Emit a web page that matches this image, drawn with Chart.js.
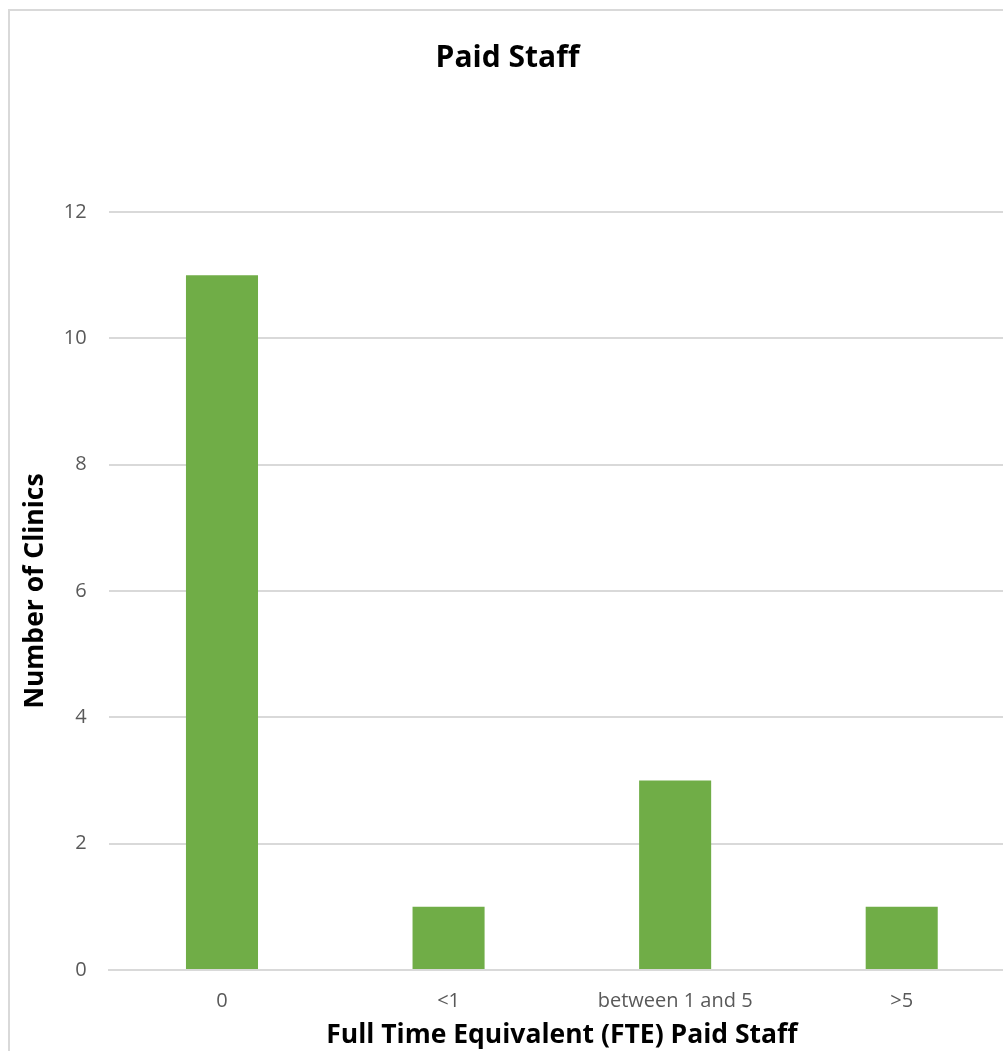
<!DOCTYPE html>
<html>
<head>
<meta charset="utf-8">
<script src="https://cdn.jsdelivr.net/npm/chart.js@4"></script>
<style>
html,body{margin:0;padding:0;background:#fff;overflow:hidden;}
#frame{position:absolute;left:8px;top:9px;width:1100px;height:1100px;border-left:2px solid #d9d9d9;border-top:2px solid #d9d9d9;box-sizing:border-box;}
#wrap{position:absolute;left:0;top:0;width:1024px;height:1051px;}
</style>
</head>
<body>
<div id="frame"></div>
<div id="wrap"><canvas id="c" width="1024" height="1051"></canvas></div>
<script>
const categories = ["0", "<1", "between 1 and 5", ">5"];
const clinics = [11, 1, 3, 1];
const yTicks = [0, 2, 4, 6, 8, 10, 12];

const FONT = "'Open Sans', 'Noto Sans', sans-serif";
new Chart(document.getElementById('c'), {
  type: 'bar',
  data: {
    labels: categories,
    datasets: [{
      data: clinics,
      backgroundColor: '#70AD47',
      barPercentage: 1,
      categoryPercentage: 0.318
    }]
  },
  options: {
    responsive: false,
    animation: false,
    devicePixelRatio: 1,
    layout: { padding: { left: 0, right: 9, top: 0, bottom: 0 } },
    plugins: {
      legend: { display: false },
      tooltip: { enabled: false },
      title: {
        display: true,
        text: 'Paid Staff',
        color: '#000',
        font: { family: FONT, size: 30, weight: 'bold' },
        padding: { top: 40, bottom: 136 }
      }
    },
    scales: {
      x: {
        grid: { display: false, drawTicks: false },
        border: { display: true, color: '#d9d9d9', width: 2 },
        ticks: { color: '#595959', font: { family: FONT, size: 20 }, padding: 19 },
        title: {
          display: true,
          text: 'Full Time Equivalent (FTE) Paid Staff',
          color: '#000',
          font: { family: FONT, size: 26.5, weight: 'bold' },
          padding: { top: 0, bottom: 0 }
        },
        afterFit: s => { s.height = 81; }
      },
      y: {
        min: 0, max: 12,
        afterBuildTicks: s => { s.ticks = yTicks.map(v => ({ value: v })); },
        grid: { color: '#d9d9d9', lineWidth: 2, drawTicks: false },
        border: { display: false },
        ticks: { color: '#595959', font: { family: FONT, size: 20 }, padding: 22 },
        title: {
          display: true,
          text: 'Number of Clinics',
          color: '#000',
          font: { family: FONT, size: 26.5, weight: 'bold' },
          padding: { top: 20, bottom: 0 }
        },
        afterFit: s => { s.width = 108.7; }
      }
    }
  }
});
</script>
</body>
</html>
